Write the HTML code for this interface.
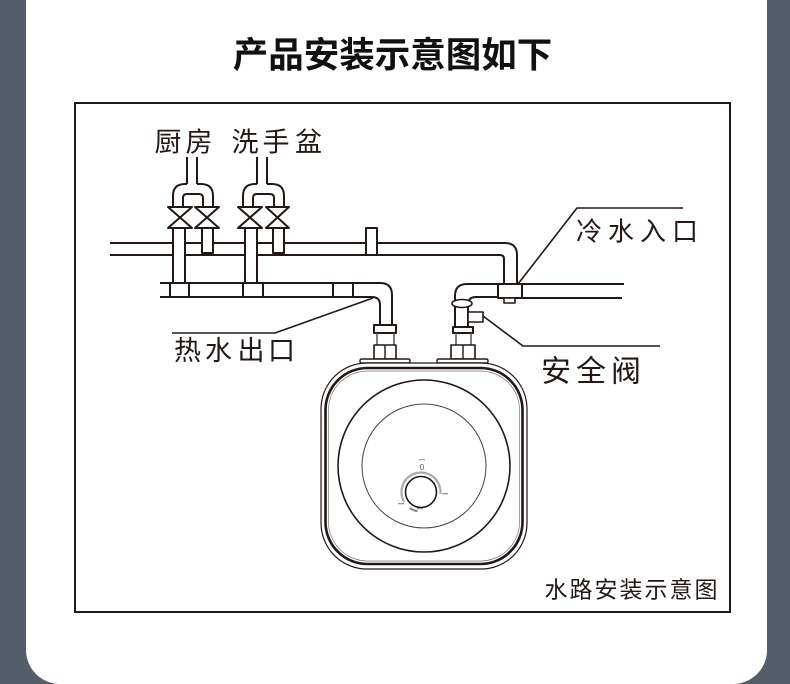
<!DOCTYPE html>
<html>
<head>
<meta charset="utf-8">
<style>
  html, body { margin:0; padding:0; width:790px; height:684px; overflow:hidden; background:#545e6a; }
  svg { display:block; }
  text { font-family: "Liberation Sans", "Noto Sans CJK SC", "WenQuanYi Zen Hei", sans-serif; fill:#231815; }
</style>
</head>
<body>
<svg width="790" height="684" viewBox="0 0 790 684" xmlns="http://www.w3.org/2000/svg">
  <!-- white card -->
  <path d="M26,0 H767 V650 A34,34 0 0 1 733,684 H60 A34,34 0 0 1 26,650 Z" fill="#ffffff"/>

  <!-- title -->
  <text x="392.5" y="67" font-size="35.5" font-weight="700" text-anchor="middle" style="fill:#111">产品安装示意图如下</text>

  <!-- frame -->
  <rect x="75" y="103" width="655" height="509" fill="none" stroke="#231815" stroke-width="2"/>

  <g stroke="#231815" stroke-width="2" fill="none" stroke-linejoin="round">
    <!-- upper cold pipe -->
    <path d="M110,243 H505 Q517,243 517,255 V284"/>
    <path d="M110,255 H500 Q504,255 504,259 V284"/>

    <!-- lower hot pipe -->
    <path d="M160,283 H380 Q392,283 392,295 V325"/>
    <path d="M160,297 H372 Q380,297 380,305 V325"/>
    <!-- couplings on lower pipe -->
    <path d="M170,283 V297 M189,283 V297 M243,283 V297 M263,283 V297 M333,283 V297 M353,283 V297"/>

    <!-- vertical pipes / stubs (white filled) -->
    <rect x="173" y="228" width="12" height="55" fill="#fff"/>
    <rect x="245" y="228" width="12" height="55" fill="#fff"/>
    <rect x="202" y="228" width="11" height="25" fill="#fff"/>
    <rect x="273" y="228" width="11" height="25" fill="#fff"/>
    <rect x="366" y="228" width="11" height="27" fill="#fff"/>

    <!-- valves (hourglass) -->
    <path d="M168,207 H192 L168,228 H192 Z" fill="#fff"/>
    <path d="M195,207 H219 L195,228 H219 Z" fill="#fff"/>
    <path d="M238,207 H262 L238,228 H262 Z" fill="#fff"/>
    <path d="M266,207 H289 L266,228 H289 Z" fill="#fff"/>

    <!-- kitchen U + riser -->
    <path d="M173,207 V196 Q173,184 185,184 H187 M197,184 H201 Q213,184 213,196 V207"/>
    <path d="M183,207 V198 Q183,194 187,194 H199 Q203,194 203,198 V207"/>
    <path d="M187,157 V184 M197,157 V184"/>

    <!-- sink U + riser -->
    <path d="M243,207 V196 Q243,184 255,184 H257 M267,184 H272 Q284,184 284,196 V207"/>
    <path d="M253,207 V198 Q253,194 257,194 H270 Q274,194 274,198 V207"/>
    <path d="M257,157 V184 M267,157 V184"/>

    <!-- cold inlet right pipe -->
    <path d="M522,284 H624"/>
    <path d="M522,298 H622"/>
    <!-- cold elbow down to heater -->
    <path d="M498,284 H467 Q455,284 455,296 V327"/>
    <path d="M498,297 H476 Q468,297 468,305 V327"/>
    <!-- tee fitting -->
    <rect x="498" y="284" width="24" height="14" fill="#fff"/>
    <rect x="504" y="298" width="11" height="5" fill="#fff" stroke-width="1.6"/>

    <!-- ring -->
    <ellipse cx="462" cy="303.5" rx="10" ry="4" fill="#fff" stroke-width="1.6"/>
    <!-- safety valve -->
    <rect x="468" y="312" width="15" height="10" fill="#fff" stroke-width="1.6"/>

    <!-- hot fittings -->
    <rect x="374" y="325" width="22" height="8" fill="#fff"/>
    <path d="M377,333 V345 M394,333 V345" stroke="#555" stroke-width="1.5"/>
    <rect x="374" y="345" width="22" height="14" fill="#fff" stroke-width="1.6"/>
    <path d="M385,345 V359" stroke-width="1.4"/>
    <rect x="360" y="359" width="50" height="4" rx="1.5" fill="#fff" stroke-width="1.4"/>

    <!-- cold fittings -->
    <rect x="453" y="327" width="20" height="6" fill="#fff"/>
    <path d="M456,333 V345 M471,333 V345" stroke="#555" stroke-width="1.5"/>
    <rect x="451" y="345" width="24" height="14" fill="#fff" stroke-width="1.6"/>
    <path d="M463,345 V359" stroke-width="1.4"/>
    <rect x="437" y="359" width="51" height="4" rx="1.5" fill="#fff" stroke-width="1.4"/>

    <!-- heater body -->
    <rect x="321" y="363" width="206" height="206" rx="46" ry="46" fill="#fff" stroke-width="1.2"/>
    <rect x="325.5" y="368" width="197" height="196" rx="42" ry="42" stroke-width="2.6"/>
    <rect x="328.5" y="371" width="191" height="190" rx="39" ry="39" stroke="#777" stroke-width="0.7"/>
    <!-- big circle -->
    <circle cx="424" cy="466" r="86" stroke-width="1.6"/>
    <!-- inner circle -->
    <circle cx="424" cy="466" r="62" stroke="#444" stroke-width="1"/>
    <!-- knob -->
    <circle cx="421" cy="492" r="15.5" stroke-width="1.6"/>
    <path d="M404.1,501.8 A19.5,19.5 0 1 1 440.4,493.7" stroke="#aaa" stroke-width="2.2"/>
    <path d="M417.6,511.2 A19.5,19.5 0 0 1 409.8,508" stroke="#888" stroke-width="2"/>

    <!-- leaders -->
    <path d="M518,284 L577,208 H683" stroke-width="1.6"/>
    <path d="M483,316 L523,346 H660" stroke-width="1.6"/>
    <path d="M172,333 H275 L373,298" stroke-width="1.6"/>
  </g>

  <!-- knob tiny marks -->
  <text x="422" y="470" font-size="8" text-anchor="middle" style="fill:#555">0</text>
  <rect x="419" y="459" width="6" height="1.2" fill="#aaa"/>
  <rect x="442" y="493" width="6" height="1.3" fill="#999"/>
  <rect x="398" y="503" width="6" height="1.3" fill="#999"/>
  <rect x="417" y="508" width="6" height="1.3" fill="#999"/>

  <!-- labels -->
  <g font-size="27">
    <text x="168" y="151.3" text-anchor="middle">厨</text>
    <text x="199" y="151.3" text-anchor="middle">房</text>
    <text x="245" y="151.3" text-anchor="middle">洗</text>
    <text x="276" y="151.3" text-anchor="middle">手</text>
    <text x="308.5" y="151.3" text-anchor="middle">盆</text>
  </g>
  <g font-size="26">
    <text x="589" y="240.4" text-anchor="middle">冷</text>
    <text x="621" y="240.4" text-anchor="middle">水</text>
    <text x="653" y="240.4" text-anchor="middle">入</text>
    <text x="685" y="240.4" text-anchor="middle">口</text>
  </g>
  <g font-size="30">
    <text x="556" y="381.4" text-anchor="middle">安</text>
    <text x="591" y="381.4" text-anchor="middle">全</text>
    <text x="626" y="381.4" text-anchor="middle">阀</text>
  </g>
  <g font-size="27">
    <text x="187.5" y="359.8" text-anchor="middle">热</text>
    <text x="218.5" y="359.8" text-anchor="middle">水</text>
    <text x="251" y="359.8" text-anchor="middle">出</text>
    <text x="281.5" y="359.8" text-anchor="middle">口</text>
  </g>
  <g font-size="23">
    <text x="556" y="597.7" text-anchor="middle">水</text>
    <text x="581" y="597.7" text-anchor="middle">路</text>
    <text x="606" y="597.7" text-anchor="middle">安</text>
    <text x="631" y="597.7" text-anchor="middle">装</text>
    <text x="656" y="597.7" text-anchor="middle">示</text>
    <text x="681" y="597.7" text-anchor="middle">意</text>
    <text x="706" y="597.7" text-anchor="middle">图</text>
  </g>
</svg>
</body>
</html>
